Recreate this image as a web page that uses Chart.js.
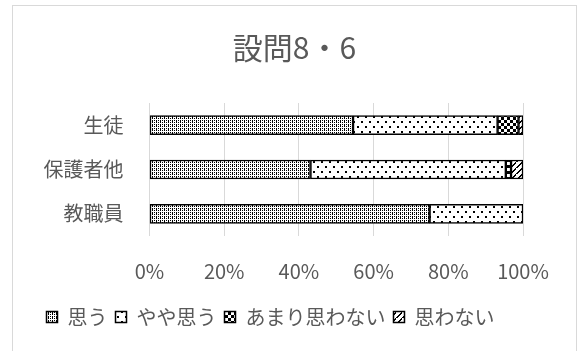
<!DOCTYPE html>
<html>
<head>
<meta charset="utf-8">
<script src="https://cdn.jsdelivr.net/npm/chart.js@4"></script>
<style>
  html, body { margin: 0; padding: 0; background: #fff; overflow: hidden; }
  #frame { position: absolute; left: 12px; top: 5px; width: 563px; height: 360px; border: 1px solid #d9d9d9; }
  #wrap { position: absolute; left: 0; top: 0; width: 579px; height: 351px; }
</style>
</head>
<body>
<div id="frame"></div>
<div id="wrap"><canvas id="myChart" width="579" height="351"></canvas></div>
<script>
const categories = ['生徒', '保護者他', '教職員'];
const seriesNames = ['思う', 'やや思う', 'あまり思わない', '思わない'];
const omou = [54.5, 43.1, 75.0];
const yayaOmou = [38.7, 52.3, 25.0];
const amariOmowanai = [5.6, 1.4, 0];
const omowanai = [1.2, 3.2, 0];
const tickValues = [0, 20, 40, 60, 80, 100];

const FONT = '"Noto Sans CJK JP", "Noto Sans", sans-serif';
const GRAY = '#595959';

// small tiles like Excel's pattern fills
function makePattern(w, h, draw) {
  const c = document.createElement('canvas');
  c.width = w;
  c.height = h;
  const g = c.getContext('2d');
  g.fillStyle = '#fff';
  g.fillRect(0, 0, w, h);
  g.fillStyle = '#000';
  draw(g);
  return document.getElementById('myChart').getContext('2d').createPattern(c, 'repeat');
}

const patOmou = makePattern(4, 4, g => {
  g.fillRect(0, 0, 1, 1); g.fillRect(2, 0, 1, 1);
  g.fillRect(0, 1, 1, 1);
  g.fillRect(0, 2, 1, 1); g.fillRect(2, 2, 1, 1);
});
const patYaya = makePattern(8, 10, g => {
  g.fillRect(1, 1, 2, 2);
  g.fillRect(5, 6, 2, 2);
});
const patAmari = makePattern(6, 6, g => {
  g.fillRect(0, 0, 3, 3);
  g.fillRect(3, 3, 3, 3);
});
const patOmowanai = makePattern(6, 6, g => {
  for (let i = 0; i < 6; i++) {
    g.fillRect(i, 5 - i, 2, 1);
  }
});

const patterns = [patOmou, patYaya, patAmari, patOmowanai];
const values = [omou, yayaOmou, amariOmowanai, omowanai];

// legend in the reference sits left of the title's centre
const shiftLegend = {
  id: 'shiftLegend',
  afterLayout(chart) {
    chart.legend.left -= 24;
    chart.legend.right -= 24;
  }
};

new Chart(document.getElementById('myChart'), {
  type: 'bar',
  data: {
    labels: categories,
    datasets: seriesNames.map((name, i) => ({
      label: name,
      data: values[i],
      backgroundColor: patterns[i],
      borderColor: '#000',
      borderWidth: 1.5,
      borderSkipped: false,
      barThickness: 19
    }))
  },
  options: {
    indexAxis: 'y',
    responsive: false,
    animation: false,
    layout: { padding: { left: 13, top: 6, right: 3, bottom: 14 } },
    scales: {
      x: {
        stacked: true,
        min: 0,
        max: 100,
        afterBuildTicks: axis => { axis.ticks = tickValues.map(v => ({ value: v })); },
        afterFit: axis => { axis.height = 63; axis.paddingRight = 56; },
        ticks: {
          callback: v => v + '%',
          color: GRAY,
          font: { family: FONT, size: 20 },
          padding: 23
        },
        grid: { color: '#d9d9d9', lineWidth: 1, drawTicks: false },
        border: { display: false }
      },
      y: {
        stacked: true,
        afterFit: axis => { axis.width = 136.5; },
        ticks: {
          color: GRAY,
          font: { family: FONT, size: 20 },
          padding: 26
        },
        grid: { display: false, drawTicks: false },
        border: { display: false }
      }
    },
    plugins: {
      title: {
        display: true,
        text: '設問8・6',
        color: GRAY,
        font: { family: FONT, size: 30, weight: 'normal' },
        padding: { top: 24, bottom: 37 }
      },
      legend: {
        position: 'bottom',
        labels: {
          boxWidth: 11,
          boxHeight: 11,
          padding: 8,
          color: GRAY,
          font: { family: FONT, size: 20 }
        }
      },
      tooltip: { enabled: false }
    }
  },
  plugins: [shiftLegend]
});
</script>
</body>
</html>
